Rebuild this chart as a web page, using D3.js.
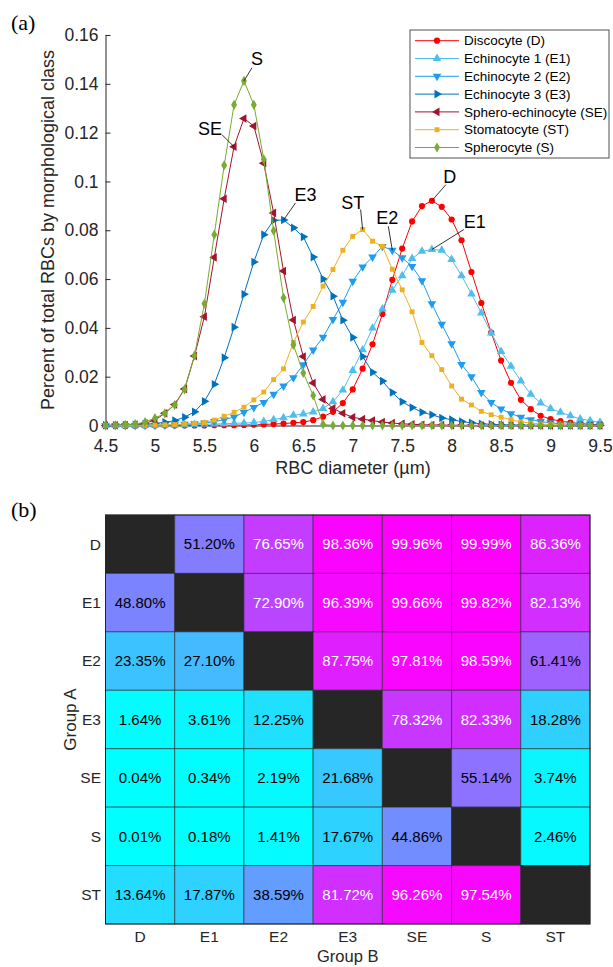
<!DOCTYPE html>
<html>
<head>
<meta charset="utf-8">
<script src="https://cdn.jsdelivr.net/npm/d3@7"></script>
<style>
  body { margin: 0; background: #fff; }
  text { font-family: "Liberation Sans", Arial, sans-serif; fill: #262626; }
</style>
</head>
<body>
<div id="chart"></div>
<script>
// Set figure dimensions
const width = 613;
const height = 967;

// ---- Panel (a) data: RBC diameter distributions ----
const diameters = [4.5, 4.6, 4.7, 4.8, 4.9, 5.0, 5.1, 5.2, 5.3, 5.4, 5.5, 5.6, 5.7, 5.8, 5.9, 6.0, 6.1, 6.2, 6.3, 6.4, 6.5,
    6.6, 6.7, 6.8, 6.9, 7.0, 7.1, 7.2, 7.3, 7.4, 7.5, 7.6, 7.7, 7.8, 7.9, 8.0, 8.1, 8.2, 8.3, 8.4, 8.5,
    8.6, 8.7, 8.8, 8.9, 9.0, 9.1, 9.2, 9.3, 9.4, 9.5];

const discocyte = [0, 0, 0, 0, 0, 0, 0, 0, 0, 0, 0,
    .0001, .0001, .0001, .0002, .0003, .0004, .0006, .0008, .0011, .0014,
    .0022, .0036, .0056, .0092, .0148, .0233, .0333, .0457, .0597, .0725,
    .0836, .0899, .0921, .0896, .0844, .0759, .0629, .0502, .0381, .0266,
    .0175, .0105, .0067, .0040, .0026, .0018, .0012, .0008, .0005, .0003];
const echinocyte1 = [0, 0, 0, 0, .0001, .0001, .0002, .0002, .0003, .0004, .0005,
    .0006, .0007, .0009, .0010, .0012, .0017, .0024, .0032, .0042, .0047,
    .0055, .0070, .0097, .0145, .0225, .0310, .0399, .0477, .0554, .0614,
    .0684, .0714, .0721, .0718, .0680, .0614, .0539, .0461, .0379, .0303,
    .0243, .0182, .0128, .0092, .0070, .0054, .0040, .0027, .0020, .0013];
const echinocyte2 = [0, 0, 0, 0, .0001, .0001, .0002, .0003, .0005, .0007, .0010,
    .0016, .0024, .0035, .0054, .0074, .0094, .0128, .0162, .0196, .0249,
    .0309, .0362, .0434, .0505, .0591, .0650, .0690, .0734, .0718, .0687,
    .0652, .0593, .0499, .0415, .0335, .0250, .0200, .0135, .0094, .0068,
    .0048, .0034, .0024, .0016, .0011, .0007, .0005, .0003, .0002, .0001];
const echinocyte3 = [.0001, .0001, .0002, .0003, .0005, .0008, .0013, .0020, .0034, .0056, .0099,
    .0169, .0278, .0403, .0538, .0670, .0782, .0841, .0842, .0810, .0773,
    .0690, .0600, .0530, .0431, .0361, .0283, .0218, .0182, .0135, .0097,
    .0074, .0054, .0044, .0031, .0024, .0016, .0011, .0007, .0005, .0003,
    .0002, .0002, .0001, .0001, 0, 0, 0, 0, 0, 0];
const spheroEchinocyte = [0, .0001, .0002, .0004, .0009, .0022, .0050, .0086, .0150, .0285, .0446,
    .0689, .0929, .1142, .1258, .1227, .1075, .0871, .0633, .0432, .0283,
    .0174, .0107, .0070, .0050, .0034, .0026, .0020, .0014, .0010, .0007,
    .0005, .0003, .0002, .0002, .0001, .0001, .0001, 0, 0, 0,
    0, 0, 0, 0, 0, 0, 0, 0, 0, 0];
const stomatocyte = [0, 0, 0, .0001, .0001, .0002, .0003, .0004, .0006, .0008, .0012,
    .0022, .0038, .0054, .0075, .0105, .0137, .0188, .0232, .0340, .0424,
    .0488, .0571, .0639, .0718, .0775, .0803, .0755, .0734, .0640, .0556,
    .0466, .0340, .0286, .0229, .0162, .0108, .0084, .0058, .0044, .0034,
    .0024, .0015, .0010, .0006, .0004, .0002, .0001, .0001, 0, 0];
const spherocyte = [0, .0001, .0003, .0006, .0014, .0030, .0050, .0084, .0148, .0287, .0499,
    .0782, .1066, .1314, .1412, .1314, .1091, .0798, .0523, .0330, .0215,
    .0123, .0005, 0, 0, 0, 0, 0, 0, 0, 0,
    0, 0, 0, 0, 0, 0, 0, 0, 0, 0,
    0, 0, 0, 0, 0, 0, 0, 0, 0, 0];

const seriesNames = ["Discocyte (D)", "Echinocyte 1 (E1)", "Echinocyte 2 (E2)", "Echinocyte 3 (E3)",
    "Sphero-echinocyte (SE)", "Stomatocyte (ST)", "Spherocyte (S)"];
const seriesShort = ["D", "E1", "E2", "E3", "SE", "ST", "S"];
const seriesValues = [discocyte, echinocyte1, echinocyte2, echinocyte3, spheroEchinocyte, stomatocyte, spherocyte];

const xTicks = [4.5, 5, 5.5, 6, 6.5, 7, 7.5, 8, 8.5, 9, 9.5];
const xTickLabels = ["4.5", "5", "5.5", "6", "6.5", "7", "7.5", "8", "8.5", "9", "9.5"];
const yTicks = [0, 0.02, 0.04, 0.06, 0.08, 0.1, 0.12, 0.14, 0.16];
const yTickLabels = ["0", "0.02", "0.04", "0.06", "0.08", "0.1", "0.12", "0.14", "0.16"];

// Curve labels: which series and which diameter the pointer line ends at
const curveLabels = ["D", "E1", "E2", "ST", "E3", "SE", "S"];
const curveLabelAt = [7.8, 7.8, 7.4, 7.1, 6.3, 5.8, 5.9];

// ---- Panel (b) data: pairwise percentages ----
const groupA = ["D", "E1", "E2", "E3", "SE", "S", "ST"];
const groupB = ["D", "E1", "E2", "E3", "SE", "S", "ST"];
const rowD  = [null, 51.20, 76.65, 98.36, 99.96, 99.99, 86.36];
const rowE1 = [48.80, null, 72.90, 96.39, 99.66, 99.82, 82.13];
const rowE2 = [23.35, 27.10, null, 87.75, 97.81, 98.59, 61.41];
const rowE3 = [1.64, 3.61, 12.25, null, 78.32, 82.33, 18.28];
const rowSE = [0.04, 0.34, 2.19, 21.68, null, 55.14, 3.74];
const rowS  = [0.01, 0.18, 1.41, 17.67, 44.86, null, 2.46];
const rowST = [13.64, 17.87, 38.59, 81.72, 96.26, 97.54, null];
const heatRows = [rowD, rowE1, rowE2, rowE3, rowSE, rowS, rowST];

// ---- Styles ----
const seriesColors = ["#ff0000", "#4dbeee", "#1f9cf0", "#0072bd", "#a2142f", "#edb120", "#77ac30"];
const axisColor = "#262626";

// symbol shape + rotation per series
const markerShapes = [
    { type: d3.symbolCircle, size: 30, rot: 0 },
    { type: d3.symbolTriangle, size: 32, rot: 0 },
    { type: d3.symbolTriangle, size: 32, rot: 180 },
    { type: d3.symbolTriangle, size: 32, rot: 90 },
    { type: d3.symbolTriangle, size: 32, rot: -90 },
    { type: d3.symbolSquare, size: 24, rot: 0 },
    { type: d3.symbolDiamond, size: 30, rot: 0 }
];

// label offsets in pixels: text centre and start of pointer line, relative to the target point
const labelOffsets = {
    D:  { tx: 18, ty: -24, lx: 14, ly: -16 },
    E1: { tx: 43, ty: -28, lx: 32, ly: -20 },
    E2: { tx: -5, ty: -33, lx: -4, ly: -24 },
    ST: { tx: -10, ty: -27, lx: -2, ly: -20 },
    E3: { tx: 22, ty: -25, lx: 12, ly: -17 },
    SE: { tx: -24, ty: -18, lx: -12, ly: -12 },
    S:  { tx: 13, ty: -22, lx: 8, ly: -13 }
};

const svg = d3.select("#chart").append("svg")
    .attr("width", width)
    .attr("height", height);

// ================= Panel (a) =================
const x = d3.scaleLinear().domain([4.5, 9.5]).range([105.5, 600]);
const y = d3.scaleLinear().domain([0, 0.16]).range([425.5, 35]);

svg.append("text")
    .attr("x", 11).attr("y", 30)
    .style("font-family", "'Liberation Serif', 'Times New Roman', serif")
    .style("font-size", "22px")
    .style("fill", "#000")
    .text("(a)");

// Axes (ticks point inward like MATLAB)
const xAxis = svg.append("g")
    .attr("transform", `translate(0,${y(0)})`)
    .call(d3.axisBottom(x).tickValues(xTicks).tickFormat((d, i) => xTickLabels[i])
        .tickSizeInner(-5).tickSizeOuter(0));
xAxis.selectAll("text").attr("y", 20).attr("dy", "0.35em").style("font-size", "17.5px");

const yAxis = svg.append("g")
    .attr("transform", `translate(${x(4.5)},0)`)
    .call(d3.axisLeft(y).tickValues(yTicks).tickFormat((d, i) => yTickLabels[i])
        .tickSizeInner(-5).tickSizeOuter(0));
yAxis.selectAll("text").attr("x", -7).style("font-size", "17.5px");

[xAxis, yAxis].forEach(g => {
    g.select(".domain").attr("stroke", axisColor);
    g.selectAll(".tick line").attr("stroke", axisColor);
    g.selectAll(".tick text").style("fill", axisColor).style("font-family", "'Liberation Sans', Arial, sans-serif");
});

svg.append("text")
    .attr("x", 353).attr("y", 468)
    .attr("text-anchor", "middle").attr("dy", "0.35em")
    .style("font-size", "18px")
    .text("RBC diameter (µm)");

svg.append("text")
    .attr("transform", "translate(48,230) rotate(-90)")
    .attr("text-anchor", "middle").attr("dy", "0.35em")
    .style("font-size", "18px")
    .text("Percent of total RBCs by morphological class");

// Curves
const line = d3.line().x((d, i) => x(diameters[i])).y(d => y(d));

const series = svg.append("g").selectAll("g")
    .data(seriesValues)
    .enter().append("g");

series.append("path")
    .attr("d", d => line(d))
    .attr("fill", "none")
    .attr("stroke", (d, i) => seriesColors[i])
    .attr("stroke-width", 1);

series.each(function (vals, si) {
    const m = markerShapes[si];
    d3.select(this).selectAll("path.mk")
        .data(vals)
        .enter().append("path")
        .attr("class", "mk")
        .attr("d", d3.symbol().type(m.type).size(m.size))
        .attr("transform", (d, i) => `translate(${x(diameters[i])},${y(d)}) rotate(${m.rot})`)
        .attr("fill", seriesColors[si]);
});

// Curve labels with pointer lines
curveLabels.forEach((lab, k) => {
    const si = seriesShort.indexOf(lab);
    const idx = diameters.findIndex(v => Math.abs(v - curveLabelAt[k]) < 1e-6);
    const px = x(diameters[idx]);
    const py = y(seriesValues[si][idx]);
    const o = labelOffsets[lab];
    svg.append("line")
        .attr("x1", px + o.lx).attr("y1", py + o.ly)
        .attr("x2", px).attr("y2", py)
        .attr("stroke", "#000").attr("stroke-width", 0.8);
    svg.append("text")
        .attr("x", px + o.tx).attr("y", py + o.ty)
        .attr("text-anchor", "middle").attr("dy", "0.35em")
        .style("font-size", "18px").style("fill", "#000")
        .text(lab);
});

// Legend
const legend = svg.append("g").attr("transform", "translate(410,30)");
legend.append("rect")
    .attr("width", 199).attr("height", 128)
    .attr("fill", "#fff").attr("stroke", axisColor).attr("stroke-width", 0.8);

seriesNames.forEach((name, i) => {
    const row = legend.append("g").attr("transform", `translate(0,${10.7 + i * 17.8})`);
    row.append("line")
        .attr("x1", 5).attr("x2", 49)
        .attr("stroke", seriesColors[i]).attr("stroke-width", 1);
    row.append("path")
        .attr("d", d3.symbol().type(markerShapes[i].type).size(markerShapes[i].size))
        .attr("transform", `translate(27,0) rotate(${markerShapes[i].rot})`)
        .attr("fill", seriesColors[i]);
    row.append("text")
        .attr("x", 54).attr("dy", "0.35em")
        .style("font-size", "13.5px").style("fill", "#000")
        .text(name);
});

// ================= Panel (b) =================
const heatTop = 515, heatBottom = 924, heatLeft = 105.5, heatRight = 590;

svg.append("text")
    .attr("x", 11).attr("y", 517)
    .style("font-family", "'Liberation Serif', 'Times New Roman', serif")
    .style("font-size", "22px")
    .style("fill", "#000")
    .text("(b)");

const hx = d3.scaleBand().domain(groupB).range([heatLeft, heatRight]);
const hy = d3.scaleBand().domain(groupA).range([heatTop, heatBottom]);

// MATLAB "cool" colormap: cyan -> magenta
const cool = d3.scaleLinear().domain([0, 100]).range(["#00ffff", "#ff00ff"]).interpolate(d3.interpolateRgb);

const cells = [];
heatRows.forEach((row, r) => row.forEach((v, c) => cells.push({ a: groupA[r], b: groupB[c], v: v })));

const cellG = svg.append("g").selectAll("g")
    .data(cells)
    .enter().append("g")
    .attr("transform", d => `translate(${hx(d.b)},${hy(d.a)})`);

cellG.append("rect")
    .attr("width", hx.bandwidth())
    .attr("height", hy.bandwidth())
    .attr("fill", d => d.v === null ? "#262626" : cool(d.v))
    .attr("stroke", "#262626")
    .attr("stroke-opacity", 0.6)
    .attr("stroke-width", 1);

cellG.filter(d => d.v !== null).append("text")
    .attr("x", hx.bandwidth() / 2)
    .attr("y", hy.bandwidth() / 2)
    .attr("text-anchor", "middle").attr("dy", "0.35em")
    .style("font-size", "15px")
    .style("fill", d => {
        const c = d3.rgb(cool(d.v));
        const lum = (0.299 * c.r + 0.587 * c.g + 0.114 * c.b) / 255;
        return lum > 0.5 ? "#000" : "#fff";
    })
    .text(d => d.v.toFixed(2) + "%");

svg.append("rect")
    .attr("x", heatLeft).attr("y", heatTop)
    .attr("width", heatRight - heatLeft).attr("height", heatBottom - heatTop)
    .attr("fill", "none").attr("stroke", "#262626").attr("stroke-width", 1);

// Heatmap tick labels
svg.append("g").selectAll("text")
    .data(groupA)
    .enter().append("text")
    .attr("x", heatLeft - 4.5)
    .attr("y", d => hy(d) + hy.bandwidth() / 2)
    .attr("text-anchor", "end").attr("dy", "0.35em")
    .style("font-size", "15.5px")
    .text(d => d);

svg.append("g").selectAll("text")
    .data(groupB)
    .enter().append("text")
    .attr("x", d => hx(d) + hx.bandwidth() / 2)
    .attr("y", heatBottom + 13)
    .attr("text-anchor", "middle").attr("dy", "0.35em")
    .style("font-size", "15.5px")
    .text(d => d);

svg.append("text")
    .attr("transform", `translate(70,${(heatTop + heatBottom) / 2}) rotate(-90)`)
    .attr("text-anchor", "middle").attr("dy", "0.35em")
    .style("font-size", "17px")
    .text("Group A");

svg.append("text")
    .attr("x", (heatLeft + heatRight) / 2).attr("y", 956)
    .attr("text-anchor", "middle").attr("dy", "0.35em")
    .style("font-size", "16.5px")
    .text("Group B");
</script>
</body>
</html>
